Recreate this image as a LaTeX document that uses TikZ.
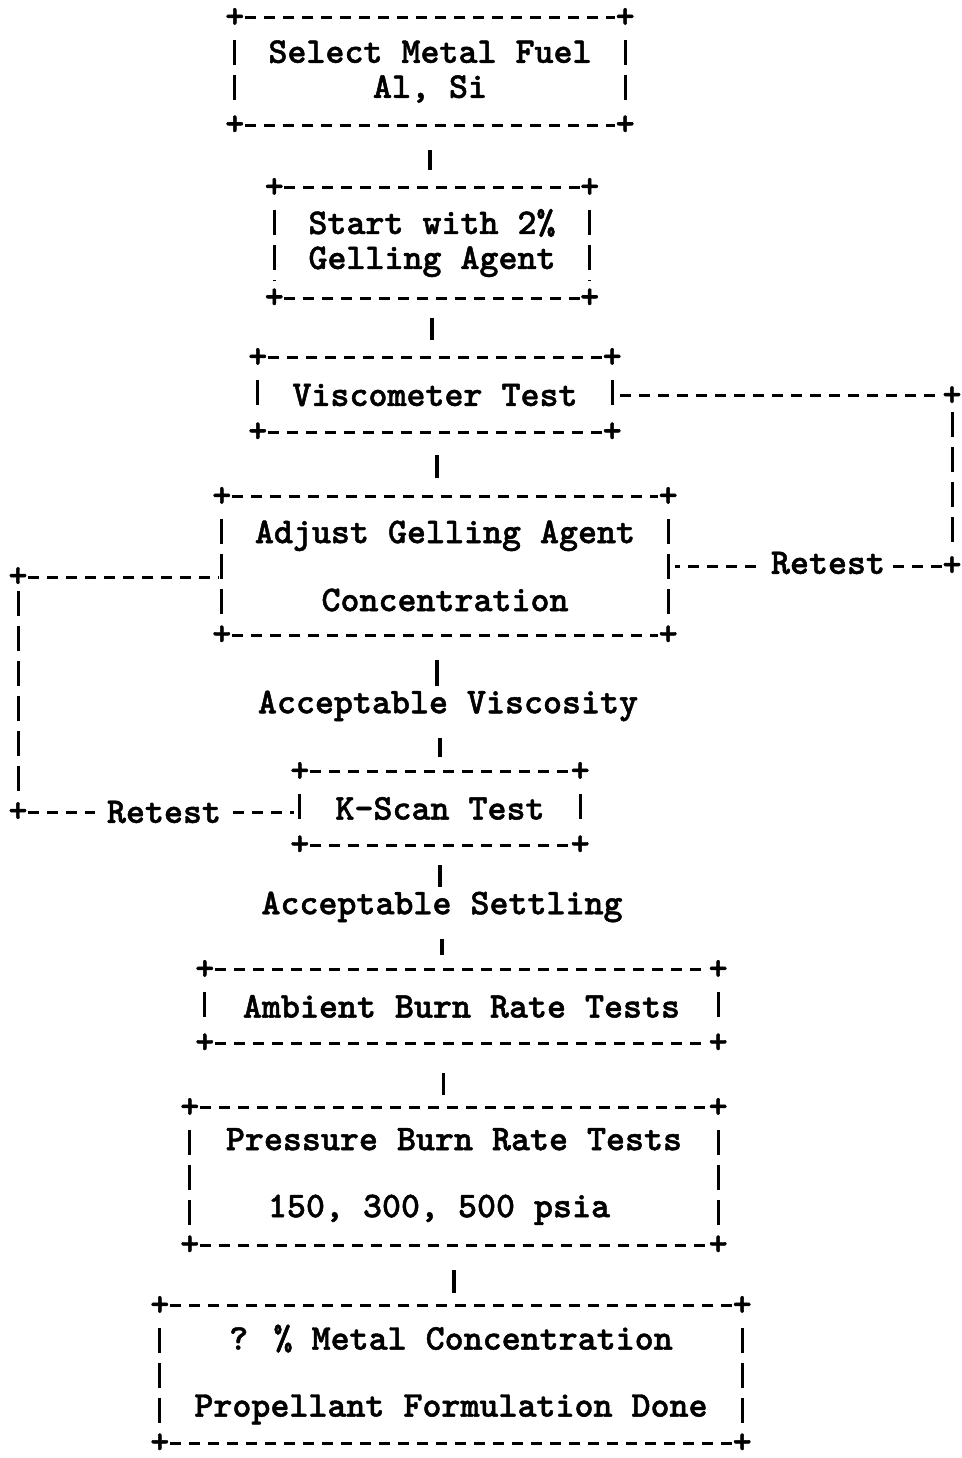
\documentclass[tikz,border=0pt]{standalone}
\usepackage{fontspec}
\newfontfamily\mono{lmmonolt10-bold.otf}[FakeBold=1.3]
\tikzset{
  hd/.style={line width=3pt, dash pattern=on 11pt off 8pt},
  vd/.style={line width=3pt, dash pattern=on 25pt off 10pt},
  bar/.style={line width=3.2pt},
  txt/.style={font=\mono\fontsize{36.2}{35}\selectfont, inner sep=0pt, align=center},
  plus/.style={font=\mono\fontsize{36.2}{35}\selectfont, inner sep=0pt},
}
\newcommand\asciibox[1]{%
  \draw[hd, shorten <=10pt, shorten >=10pt] (#1.north west) -- (#1.north east);
  \draw[hd, shorten <=10pt, shorten >=10pt] (#1.south west) -- (#1.south east);
  \draw[vd] ([yshift=-22pt]#1.north west) -- ([yshift=18pt]#1.south west);
  \draw[vd] ([yshift=-22pt]#1.north east) -- ([yshift=18pt]#1.south east);
  \node[plus] (#1-nw) at (#1.north west) {+};
  \node[plus] (#1-ne) at (#1.north east) {+};
  \node[plus] (#1-sw) at (#1.south west) {+};
  \node[plus] (#1-se) at (#1.south east) {+};
}
\begin{document}
\begin{tikzpicture}[x=1pt, y=-1pt]
\useasboundingbox (0,0) rectangle (961,1458);

% boxes
\node[txt, minimum width=390pt, minimum height=107pt] (b1) at (430,71.5) {Select Metal Fuel\\Al, Si};
\node[txt, minimum width=315pt, minimum height=110pt] (b2) at (432,243) {Start with 2\%\\Gelling Agent};
\node[txt, minimum width=354pt, minimum height=74pt] (b3) at (435,395) {Viscometer Test};
\node[txt, minimum width=446pt, minimum height=138pt] (b4) at (445,566) {Adjust Gelling Agent\\[33pt]Concentration};
\node[txt, minimum width=280pt, minimum height=73pt] (b5) at (440,808.5) {K-Scan Test};
\node[txt, minimum width=513pt, minimum height=73pt] (b6) at (461.5,1006.5) {Ambient Burn Rate Tests};
\node[txt, minimum width=528pt, minimum height=137pt] (b7) at (454,1176.5) {Pressure Burn Rate Tests\\[32pt]150, 300, 500 psia\hspace*{30pt}};
\node[txt, minimum width=582pt, minimum height=137pt] (b8) at (451,1374.5) {? \% Metal Concentration\\[32pt]Propellant Formulation Done};

\asciibox{b1}
\asciibox{b2}
\asciibox{b3}
\asciibox{b4}
\asciibox{b5}
\asciibox{b6}
\asciibox{b7}
\asciibox{b8}

% labels
\node[txt] (lab1) at (448,706) {Acceptable Viscosity};
\node[txt] (lab2) at (442,907) {Acceptable Settling};

% vertical connectors
\draw[bar, shorten <=25pt, shorten >=18pt] (b1.south) -- (b1.south |- b2.north);
\draw[bar, shorten <=20pt, shorten >=18pt] (b2.south) -- (b2.south |- b3.north);
\draw[bar, shorten <=23pt, shorten >=19pt] ([xshift=2pt]b3.south) -- ([xshift=2pt]b3.south |- b4.north);
\draw[bar, shorten <=25pt, shorten >=5pt] ([xshift=-8pt]b4.south) -- ([xshift=-8pt]b4.south |- lab1.north);
\draw[bar, shorten <=16pt, shorten >=15pt] ([xshift=-8pt]lab1.south) -- ([xshift=-8pt]lab1.south |- b5.north);
\draw[bar, shorten <=20pt, shorten >=4pt] (b5.south) -- (b5.south |- lab2.north);
\draw[bar, shorten <=16pt, shorten >=15pt] (lab2.south) -- (lab2.south |- b6.north);
\draw[bar, shorten <=30pt, shorten >=13pt] ([xshift=-18pt]b6.south) -- ([xshift=-18pt]b6.south |- b7.north);
\draw[bar, shorten <=25pt, shorten >=13pt] (b7.south) -- (b7.south |- b8.north);

% right retest loop
\coordinate (rtop) at (952,396);
\coordinate (rbot) at (952,566);
\draw[hd, shorten <=8pt, shorten >=10pt] (b3.east) -- (b3.east -| rtop);
\node[plus] (rp1) at (rtop) {+};
\draw[vd, shorten <=16pt, shorten >=16pt] (rtop) -- (rbot);
\node[plus] (rp2) at (rbot) {+};
\node[txt] (rt1) at (828,563) {Retest};
\draw[hd, shorten <=10pt, shorten >=8pt] (rbot) -- (rbot -| rt1.east);
\draw[hd, shorten <=15pt, shorten >=7pt] (rbot -| rt1.west) -- (rbot -| b4.east);

% left retest loop
\coordinate (ltop) at (18,577);
\coordinate (lbot) at (18,812);
\node[plus] (lp1) at (ltop) {+};
\draw[hd, shorten <=10pt, shorten >=3pt] (ltop) -- (ltop -| b4.west);
\draw[vd, shorten <=14pt, shorten >=14pt] (ltop) -- (lbot);
\node[plus] (lp2) at (lbot) {+};
\node[txt] (rt2) at (164,812) {Retest};
\draw[hd, shorten <=10pt, shorten >=12pt] (lbot) -- (lbot -| rt2.west);
\draw[hd, shorten <=12pt, shorten >=6pt] (lbot -| rt2.east) -- (lbot -| b5.west);
\end{tikzpicture}
\end{document}
